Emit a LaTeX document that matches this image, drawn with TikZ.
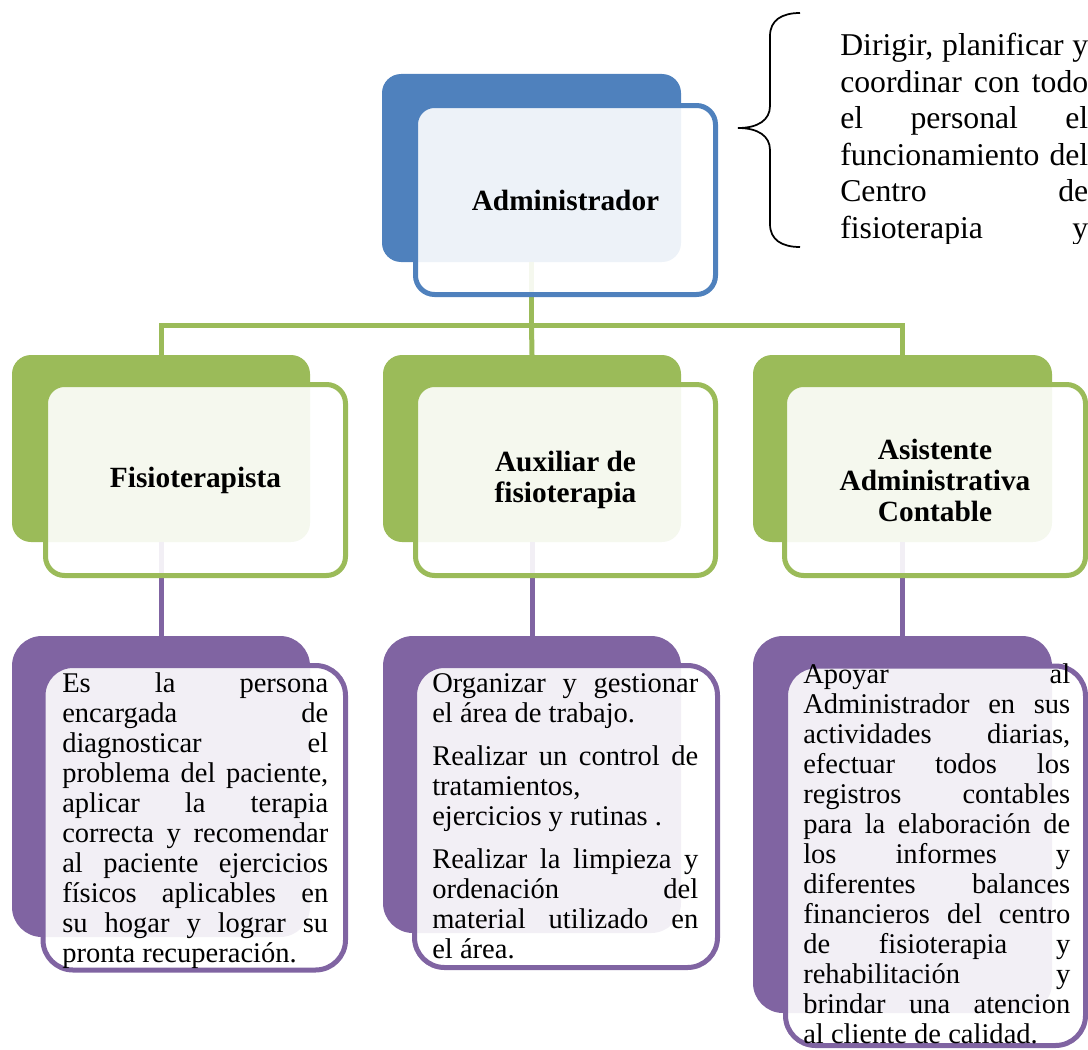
\documentclass[tikz,border=0pt]{standalone}
\usepackage{fontspec}
\setmainfont{Liberation Serif}
\usetikzlibrary{fit}
\definecolor{cblue}{HTML}{4F81BD}
\definecolor{cgreen}{HTML}{9BBB59}
\definecolor{cpurple}{HTML}{8064A2}
\newcommand\JL[1]{\makebox[\linewidth][s]{#1}\par}
\newcommand\LL[1]{\makebox[\linewidth][l]{#1}\par}
\begin{document}
\begin{tikzpicture}[x=0.75pt,y=-0.75pt,
  backbox/.style={inner sep=0pt, outer sep=0pt, draw=none, fill=#1, rounded corners=14.25pt},
  frontbox/.style={inner sep=0pt, outer sep=0pt, draw=#1, line width=3.75pt, fill=white, fill opacity=0.9, rounded corners=14.25pt},
  bigr/.style={rounded corners=22.5pt},
  gline/.style={draw=cgreen, line width=3.75pt},
  pline/.style={draw=cpurple, line width=3.75pt},
  headtext/.style={inner sep=0pt, align=center, font=\bfseries\fontsize{22pt}{23.25pt}\selectfont},
  desctext/.style={inner sep=0pt, anchor=base west, font=\fontsize{21.4pt}{22.5pt}\selectfont},
  bracepath/.style={draw=black, line width=1.3pt}
]
\useasboundingbox (0,0) rectangle (1088,1049);

% back boxes
\node[backbox=cblue, fit={(382,74) (681,262)}] (adminBack) {};
\node[backbox=cgreen, fit={(12,355) (310,542)}] (fisBack) {};
\node[backbox=cgreen, fit={(383,355) (681,542)}] (auxBack) {};
\node[backbox=cgreen, fit={(753,355) (1052,542)}] (asiBack) {};
\node[backbox=cpurple, bigr, fit={(12,636) (310,937)}] (fisDescBack) {};
\node[backbox=cpurple, bigr, fit={(383,636) (681,933)}] (auxDescBack) {};
\node[backbox=cpurple, bigr, fit={(753,636) (1052,1013)}] (asiDescBack) {};

% connectors
\coordinate (bus) at (adminBack.south |- 0,325);
\draw[gline] (adminBack.south) -- (bus);
\draw[gline] (fisBack.north) |- (bus) -| (asiBack.north);
\draw[gline] (auxBack.north) -- (bus);
\draw[pline] (fisBack.south) -- (fisDescBack.north);
\draw[pline] (auxBack.south) -- (auxDescBack.north);
\draw[pline] (asiBack.south) -- (asiDescBack.north);

% front boxes
\node[frontbox=cblue, fit={(415.5,105.5) (715.5,294.5)}] (adminFront) {};
\node[frontbox=cgreen, fit={(45.5,384.5) (345.5,575.5)}] (fisFront) {};
\node[frontbox=cgreen, fit={(415.5,384.5) (715.5,575.5)}] (auxFront) {};
\node[frontbox=cgreen, fit={(784.5,384.5) (1085.5,575.5)}] (asiFront) {};
\node[frontbox=cpurple, bigr, fit={(43,665.5) (345.5,970)}] (fisDescFront) {};
\node[frontbox=cpurple, bigr, fit={(414.5,665.5) (717.5,967.5)}] (auxDescFront) {};
\node[frontbox=cpurple, bigr, fit={(785.5,666) (1085.5,1045.5)}] (asiDescFront) {};

% headings
\node[headtext] (adminText) at (adminFront.center) {Administrador};
\node[headtext] (fisText) at (fisFront.center) {Fisioterapista};
\node[headtext] (auxText) at (auxFront.center) {Auxiliar de\\fisioterapia};
\node[headtext] (asiText) at (asiFront.center) {Asistente\\Administrativa\\Contable};

% descriptions
\node[desctext] (fisDesc) at (62,692) {\parbox[t]{199.5pt}{%
\JL{Es la persona}
\JL{encargada de}
\JL{diagnosticar el}
\JL{problema del paciente,}
\JL{aplicar la terapia}
\JL{correcta y recomendar}
\JL{al paciente ejercicios}
\JL{físicos aplicables en}
\JL{su hogar y lograr su}
\LL{pronta recuperación.}}};

\node[desctext] (auxDesc) at (432,692) {\parbox[t]{199.5pt}{%
\JL{Organizar y gestionar}
\LL{el área de trabajo.}
\vspace{9.75pt}
\JL{Realizar un control de}
\LL{tratamientos,}
\LL{ejercicios y rutinas .}
\vspace{9.75pt}
\JL{Realizar la limpieza y}
\JL{ordenación del}
\JL{material utilizado en}
\LL{el área.}}};

\node[desctext] (asiDesc) at (803,683) {\parbox[t]{200.25pt}{%
\JL{Apoyar al}
\JL{Administrador en sus}
\JL{actividades diarias,}
\JL{efectuar todos los}
\JL{registros contables}
\JL{para la elaboración de}
\JL{los informes y}
\JL{diferentes balances}
\JL{financieros del centro}
\JL{de fisioterapia y}
\JL{rehabilitación y}
\JL{brindar una atencion}
\LL{al cliente de calidad.}}};

% brace
\draw[bracepath] (800,13) .. controls (782,13) and (770,20) .. (770,36)
  -- (770,106) .. controls (770,120) and (758,128) .. (738,128)
  .. controls (758,128) and (770,136) .. (770,150)
  -- (770,224) .. controls (770,240) and (782,247) .. (800,247);

% role text (clipped as in the reference)
\begin{scope}
\clip (700,0) rectangle (1088,243);
\node[inner sep=0pt, anchor=base west, font=\fontsize{23.8pt}{27.4pt}\selectfont] (roleText) at (840,55.5) {\parbox[t]{186pt}{%
\JL{Dirigir, planificar y}
\JL{coordinar con todo}
\JL{el personal el}
\JL{funcionamiento del}
\JL{Centro de}
\JL{fisioterapia y}}};
\end{scope}
\end{tikzpicture}
\end{document}
